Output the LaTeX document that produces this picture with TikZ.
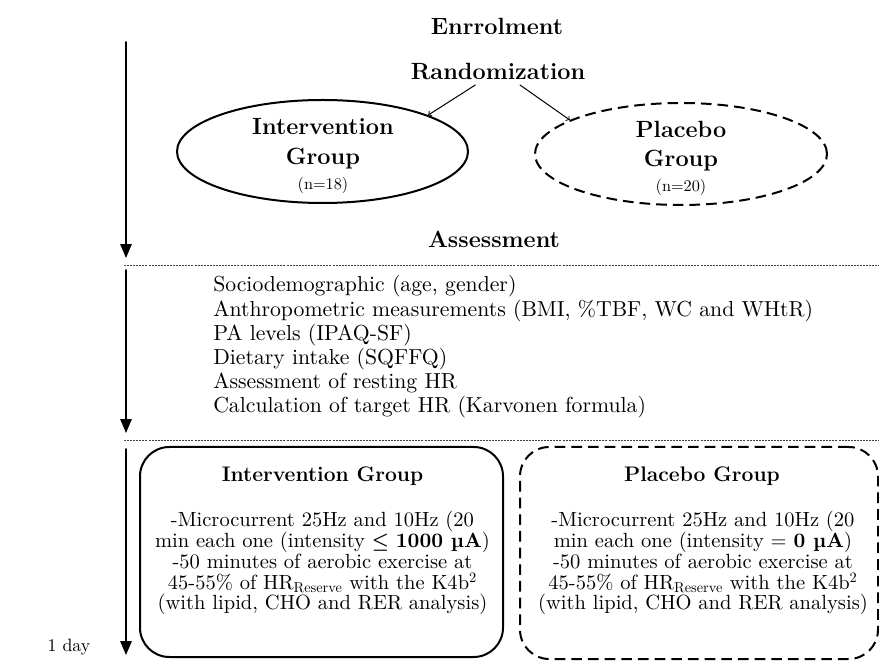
\documentclass[tikz,border=0pt]{standalone}
\usepackage{fontspec}
\usepackage{tikz}
\usetikzlibrary{arrows}
\usetikzlibrary{shapes.geometric}
\newfontfamily\wideserif{lmroman10-regular}[Extension=.otf,BoldFont=lmroman10-bold]

\begin{document}
\begin{tikzpicture}[line cap=round,line join=round,>=triangle 45,x=0.75pt,y=-0.75pt,
	head/.style={font=\fontsize{17.6}{20}\selectfont\bfseries,anchor=base},
	boxhead/.style={font=\fontsize{15.8}{18}\selectfont\bfseries,anchor=base},
	nsmall/.style={font=\wideserif\fontsize{12.2}{14}\selectfont,anchor=base},
	item/.style={font=\wideserif\fontsize{16.3}{18.2}\selectfont,anchor=base west,inner sep=0pt},
	body/.style={font=\wideserif\fontsize{15.4}{15.6}\selectfont,align=center,anchor=north,inner sep=0pt},
	grpell/.style={ellipse,draw,line width=1.5pt,inner sep=0pt},
	grpbox/.style={draw,line width=1.5pt,rounded corners=22pt,inner sep=0pt},
	dashline/.style={line cap=butt,dash pattern=on 8pt off 4.5pt},
	sep/.style={line width=0.5pt,black!75,line cap=butt,dash pattern=on 1.5pt off 0.8pt},
	timeline/.style={->,line width=1.4pt}]
		\useasboundingbox (0,0) rectangle (879,666);
		\node[head] (enrol) at (497,35) {Enrrolment};
		\node[head] (rand) at (498,80) {Randomization};
		\node[grpell,minimum width=218.25pt,minimum height=77.25pt] (ig) at (322.5,151.5) {};
		\node[grpell,dashline,minimum width=219pt,minimum height=76.5pt] (pg) at (681,154) {};
		\node[head] (igname) at (323,135) {Intervention};
		\node[head] (iggroup) at (323,165) {Group};
		\node[nsmall] (ign) at (323,190) {(n=18)};
		\node[head] (pgname) at (681,138) {Placebo};
		\node[head] (pggroup) at (681,167) {Group};
		\node[nsmall] (pgn) at (681,192) {(n=20)};
		\draw [-to,line width=0.75pt] ([xshift=-17pt]rand.south) -- (ig.19);
		\draw [-to,line width=0.75pt] ([xshift=16.5pt]rand.south) -- (pg.163);
		\node[head] (assess) at (494,248) {Assessment};
		\coordinate (s1a) at (124,265);
		\coordinate (s1b) at (879,265);
		\coordinate (s2a) at (124,440);
		\coordinate (s2b) at (879,440);
		\draw [sep] (s1a) -- (s1b);
		\draw [sep] (s2a) -- (s2b);
		\node[item] (it1) at (213,292) {Sociodemographic (age, gender)};
		\node[item] (it2) at (213,316.2) {Anthropometric measurements (BMI, \%TBF, WC and WHtR)};
		\node[item] (it3) at (213,340.4) {PA levels (IPAQ-SF)};
		\node[item] (it4) at (213,364.6) {Dietary intake (SQFFQ)};
		\node[item] (it5) at (213,388.8) {Assessment of resting HR};
		\node[item] (it6) at (213,413) {Calculation of target HR (Karvonen formula)};
		\node[grpbox,minimum width=272.25pt,minimum height=157.5pt] (ibox) at (321.5,552) {};
		\node[grpbox,dashline,minimum width=268.5pt,minimum height=159pt] (pbox) at (699,553) {};
		\node[boxhead] (ititle) at (322.5,482) {Intervention Group};
		\node[boxhead] (ptitle) at (702,482) {Placebo Group};
		\node[body] (itext) at (322.5,511) {-Microcurrent 25Hz and 10Hz (20\\
			min each one (intensity {\boldmath$\leq$} \textbf{1000 µA})\\
			-50 minutes of aerobic exercise at\\
			45-55\% of HR\smash{\textsubscript{Reserve}} with the K4b\smash{\textsuperscript{2}}\\
			(with lipid, CHO and RER analysis)};
		\node[body] (ptext) at (703,511) {-Microcurrent 25Hz and 10Hz (20\\
			min each one (intensity = \textbf{0 µA})\\
			-50 minutes of aerobic exercise at\\
			45-55\% of HR\smash{\textsubscript{Reserve}} with the K4b\smash{\textsuperscript{2}}\\
			(with lipid, CHO and RER analysis)};
		\node[nsmall,font=\wideserif\fontsize{13.4}{15}\selectfont] (day) at (69,652) {1 day};
		\coordinate (t1a) at (126,42);
		\coordinate (t1b) at (126,258);
		\coordinate (t2a) at (126,270);
		\coordinate (t2b) at (126,433);
		\coordinate (t3a) at (126,449);
		\coordinate (t3b) at (126,655);
		\draw [timeline] (t1a) -- (t1b);
		\draw [timeline] (t2a) -- (t2b);
		\draw [timeline] (t3a) -- (t3b);
\end{tikzpicture}
\end{document}
